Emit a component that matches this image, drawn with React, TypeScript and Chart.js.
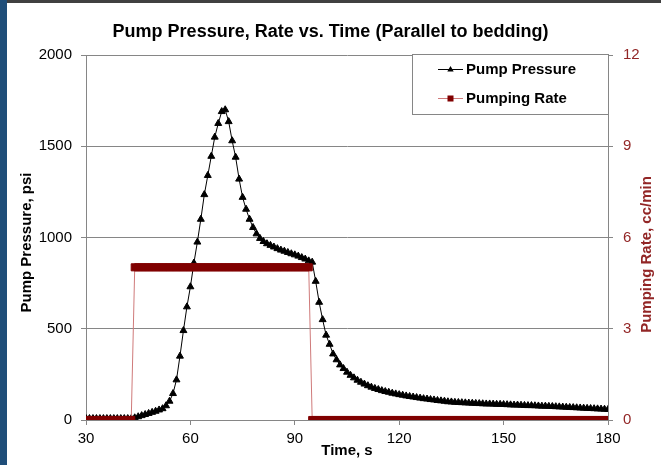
import React, { useEffect, useRef } from 'react';
import { Chart, registerables } from 'chart.js';

Chart.register(...registerables);

const CHART_TITLE = 'Pump Pressure, Rate vs. Time (Parallel to bedding)';
const X_TITLE = 'Time, s';
const Y_LEFT_TITLE = 'Pump Pressure, psi';
const Y_RIGHT_TITLE = 'Pumping Rate, cc/min';
const SERIES_NAMES = ['Pump Pressure', 'Pumping Rate'];

const X_TICKS = [30, 60, 90, 120, 150, 180];
const PRESSURE_TICKS = [0, 500, 1000, 1500, 2000];
const RATE_TICKS = [0, 3, 6, 9, 12];

const TIME_S = [
  30, 31, 32, 33, 34, 35, 36, 37, 38, 39,
  40, 41, 42, 43, 44, 45, 46, 47, 48, 49,
  50, 51, 52, 53, 54, 55, 56, 57, 58, 59,
  60, 61, 62, 63, 64, 65, 66, 67, 68, 69,
  70, 71, 72, 73, 74, 75, 76, 77, 78, 79,
  80, 81, 82, 83, 84, 85, 86, 87, 88, 89,
  90, 91, 92, 93, 94, 95, 96, 97, 98, 99,
  100, 101, 102, 103, 104, 105, 106, 107, 108, 109,
  110, 111, 112, 113, 114, 115, 116, 117, 118, 119,
  120, 121, 122, 123, 124, 125, 126, 127, 128, 129,
  130, 131, 132, 133, 134, 135, 136, 137, 138, 139,
  140, 141, 142, 143, 144, 145, 146, 147, 148, 149,
  150, 151, 152, 153, 154, 155, 156, 157, 158, 159,
  160, 161, 162, 163, 164, 165, 166, 167, 168, 169,
  170, 171, 172, 173, 174, 175, 176, 177, 178, 179,
  180,
];

const PUMP_PRESSURE_PSI = [
  8, 8, 8, 8, 8, 8, 8, 8, 8, 8,
  8, 8, 8, 8, 12, 18, 24, 30, 36, 42,
  48, 55, 62, 78, 103, 145, 220, 350, 490, 620,
  730, 860, 975, 1100, 1235, 1340, 1445, 1550, 1625, 1690,
  1700, 1635, 1530, 1440, 1320, 1220, 1155, 1100, 1055, 1020,
  995, 978, 966, 957, 948, 939, 931, 925, 918, 911,
  905, 898, 890, 882, 872, 865, 760, 645, 550, 465,
  415, 362, 330, 302, 282, 262, 245, 231, 218, 207,
  197, 188, 180, 173, 167, 161, 156, 152, 147, 143,
  139, 136, 132, 129, 126, 123, 120, 117, 115, 112,
  110, 107, 105, 103, 100, 99, 97, 96, 95, 94,
  93, 92, 91, 90, 89, 88, 88, 87, 86, 86,
  85, 84, 83, 82, 82, 81, 80, 79, 79, 78,
  77, 76, 76, 75, 74, 73, 72, 71, 70, 69,
  68, 67, 66, 65, 64, 63, 62, 61, 60, 59,
  58,
];

const PUMPING_RATE_CC_MIN = [
  0, 0, 0, 0, 0, 0, 0, 0, 0, 0,
  0, 0, 0, 0, 5.02, 5.02, 5.02, 5.02, 5.02, 5.02,
  5.02, 5.02, 5.02, 5.02, 5.02, 5.02, 5.02, 5.02, 5.02, 5.02,
  5.02, 5.02, 5.02, 5.02, 5.02, 5.02, 5.02, 5.02, 5.02, 5.02,
  5.02, 5.02, 5.02, 5.02, 5.02, 5.02, 5.02, 5.02, 5.02, 5.02,
  5.02, 5.02, 5.02, 5.02, 5.02, 5.02, 5.02, 5.02, 5.02, 5.02,
  5.02, 5.02, 5.02, 5.02, 5.02, 0, 0, 0, 0, 0,
  0, 0, 0, 0, 0, 0, 0, 0, 0, 0,
  0, 0, 0, 0, 0, 0, 0, 0, 0, 0,
  0, 0, 0, 0, 0, 0, 0, 0, 0, 0,
  0, 0, 0, 0, 0, 0, 0, 0, 0, 0,
  0, 0, 0, 0, 0, 0, 0, 0, 0, 0,
  0, 0, 0, 0, 0, 0, 0, 0, 0, 0,
  0, 0, 0, 0, 0, 0, 0, 0, 0, 0,
  0, 0, 0, 0, 0, 0, 0, 0, 0, 0,
  0,
];

const FONT = "'Liberation Sans', Arial, Helvetica, sans-serif";
const GRID = '#868686';
const DARK_RED = '#800000';
const RATE_LINE = '#cf7a7a';
const AXIS_RED = '#922626';

const tickSetter = (values: number[]) => (scale: any) => {
  scale.ticks = values.map((v) => ({ value: v }));
};
const plainLabel = (v: any) => String(v);

const boxLegend = {
  id: 'boxLegend',
  afterDatasetsDraw(chart: any) {
    const { ctx, chartArea } = chart;
    const w = 196;
    const h = 60;
    const x0 = chartArea.right - w;
    const y0 = chartArea.top - 1;
    ctx.save();
    ctx.fillStyle = '#ffffff';
    ctx.fillRect(x0, y0, w, h);
    ctx.strokeStyle = GRID;
    ctx.lineWidth = 1;
    ctx.strokeRect(x0 + 0.5, y0 + 0.5, w, h);
    ctx.font = `bold 15px ${FONT}`;
    ctx.textAlign = 'left';
    ctx.textBaseline = 'middle';
    chart.data.datasets.forEach((ds: any, i: number) => {
      const cy = Math.round(y0 + 15 + i * 29) + 0.5;
      ctx.strokeStyle = ds.borderColor;
      ctx.lineWidth = 1;
      ctx.beginPath();
      ctx.moveTo(x0 + 26, cy);
      ctx.lineTo(x0 + 51, cy);
      ctx.stroke();
      const mx = x0 + 38.5;
      ctx.fillStyle = ds.pointBackgroundColor;
      if (ds.pointStyle === 'triangle') {
        ctx.beginPath();
        ctx.moveTo(mx, cy - 3.5);
        ctx.lineTo(mx + 3.2, cy + 2);
        ctx.lineTo(mx - 3.2, cy + 2);
        ctx.closePath();
        ctx.fill();
      } else {
        ctx.fillRect(mx - 3, cy - 3, 6, 6);
      }
      ctx.fillStyle = '#000';
      ctx.fillText(SERIES_NAMES[i], x0 + 54, cy);
    });
    ctx.restore();
  },
};

const axisTitles = {
  id: 'axisTitles',
  afterDraw(chart: any) {
    const { ctx, chartArea } = chart;
    const midY = (chartArea.top + chartArea.bottom) / 2;
    ctx.save();
    ctx.font = `bold 15px ${FONT}`;
    ctx.textAlign = 'center';
    ctx.textBaseline = 'middle';
    ctx.save();
    ctx.translate(27, midY + 5);
    ctx.rotate(-Math.PI / 2);
    ctx.fillStyle = '#000';
    ctx.fillText(Y_LEFT_TITLE, 0, 0);
    ctx.restore();
    ctx.save();
    ctx.translate(647, midY + 17);
    ctx.rotate(-Math.PI / 2);
    ctx.fillStyle = AXIS_RED;
    ctx.fillText(Y_RIGHT_TITLE, 0, 0);
    ctx.restore();
    ctx.restore();
  },
};

export default function App() {
  const ref = useRef<HTMLCanvasElement>(null);

  useEffect(() => {
    const canvas = ref.current;
    if (!canvas) return;
    Chart.defaults.font.family = FONT;
    Chart.defaults.color = '#000';

    const chart = new Chart(canvas, {
      type: 'line',
      data: {
        datasets: [
          {
            label: SERIES_NAMES[0],
            data: TIME_S.map((t, i) => ({ x: t, y: PUMP_PRESSURE_PSI[i] })),
            yAxisID: 'y',
            borderColor: '#000000',
            borderWidth: 1,
            pointStyle: 'triangle',
            pointRadius: 4,
            pointBackgroundColor: '#000000',
            pointBorderColor: '#000000',
            pointBorderWidth: 1,
            tension: 0,
            order: 2,
          },
          {
            label: SERIES_NAMES[1],
            data: TIME_S.map((t, i) => ({ x: t, y: PUMPING_RATE_CC_MIN[i] })),
            yAxisID: 'y1',
            borderColor: RATE_LINE,
            borderWidth: 1,
            pointStyle: 'rect',
            pointRadius: 5,
            pointBackgroundColor: DARK_RED,
            pointBorderColor: DARK_RED,
            pointBorderWidth: 1,
            tension: 0,
            order: 1,
          },
        ],
      },
      options: {
        responsive: false,
        animation: false,
        devicePixelRatio: 1,
        layout: { padding: 0 },
        events: [],
        plugins: {
          legend: { display: false },
          tooltip: { enabled: false },
          title: {
            display: true,
            text: CHART_TITLE,
            color: '#000',
            font: { family: FONT, size: 18, weight: 'bold' },
            padding: { top: 21, bottom: 12.4 },
          },
        },
        scales: {
          x: {
            type: 'linear',
            min: 30,
            max: 180,
            afterBuildTicks: tickSetter(X_TICKS),
            afterFit: (s: any) => {
              s.height = 45;
            },
            grid: { drawOnChartArea: false, drawTicks: true, tickLength: 5, color: GRID },
            border: { color: GRID },
            ticks: { color: '#000', font: { size: 15 }, padding: 5, maxRotation: 0, autoSkip: false, callback: plainLabel },
            title: {
              display: true,
              text: X_TITLE,
              color: '#000',
              font: { size: 15, weight: 'bold' },
              padding: { top: 0, bottom: 5 },
            },
          },
          y: {
            position: 'left',
            min: 0,
            max: 2000,
            afterBuildTicks: tickSetter(PRESSURE_TICKS),
            afterFit: (s: any) => {
              s.width = 86;
            },
            grid: { color: GRID, tickLength: 5 },
            border: { color: GRID },
            ticks: { color: '#000', font: { size: 15 }, padding: 9, callback: plainLabel },
          },
          y1: {
            position: 'right',
            min: 0,
            max: 12,
            afterBuildTicks: tickSetter(RATE_TICKS),
            afterFit: (s: any) => {
              s.width = 53;
            },
            grid: { drawOnChartArea: false, color: GRID, tickLength: 5 },
            border: { color: GRID },
            ticks: { color: AXIS_RED, font: { size: 15 }, padding: 10, callback: plainLabel },
          },
        },
      },
      plugins: [boxLegend, axisTitles],
    } as any);

    return () => chart.destroy();
  }, []);

  return (
    <div
      style={{
        position: 'absolute',
        left: 0,
        top: 0,
        width: 661,
        height: 465,
        background: '#ffffff',
        overflow: 'hidden',
      }}
    >
      <canvas ref={ref} width={661} height={465} style={{ position: 'absolute', left: 0, top: 0 }} />
      <div style={{ position: 'absolute', left: 0, top: 0, width: 7, height: 465, background: '#1F4E79' }} />
      <div style={{ position: 'absolute', left: 7, top: 0, width: 654, height: 3, background: '#404040' }} />
    </div>
  );
}
